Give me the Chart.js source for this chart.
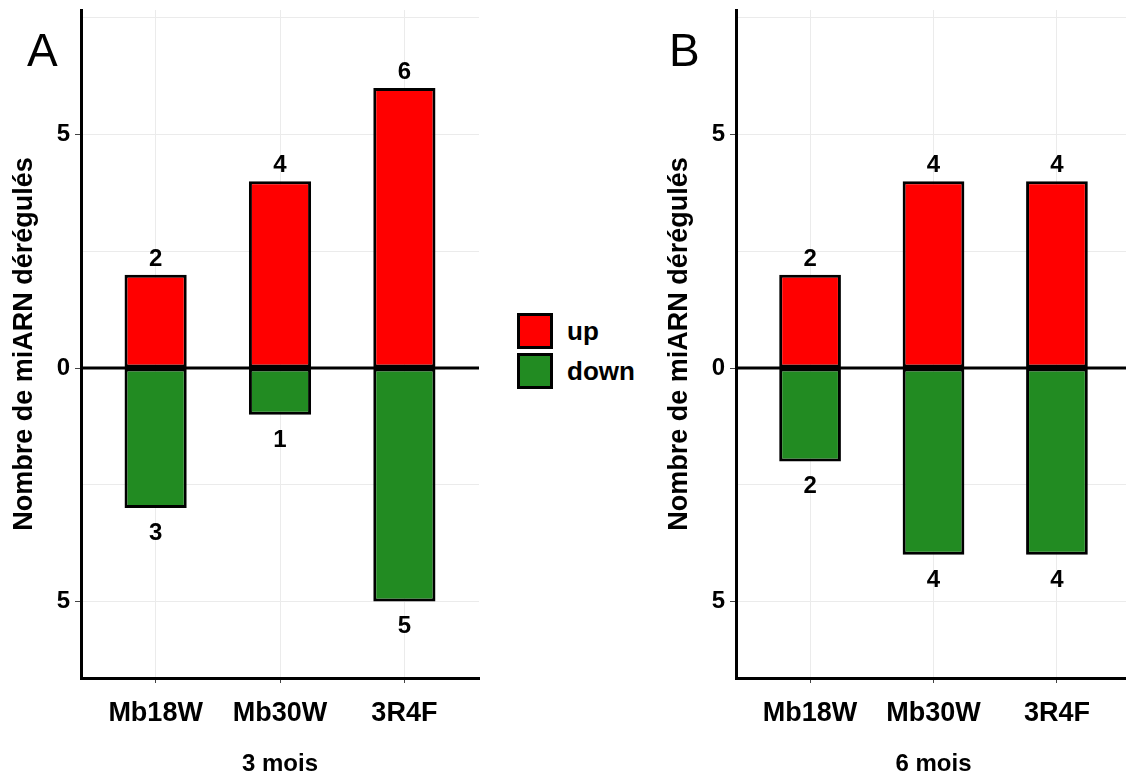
<!DOCTYPE html>
<html>
<head>
<meta charset="utf-8">
<script src="https://cdn.jsdelivr.net/npm/chart.js@4.4.1/dist/chart.umd.min.js"></script>
<style>
  body { margin: 0; width: 1126px; height: 776px; overflow: hidden; background: #fff; position: relative; font-family: "Liberation Sans", Arial, sans-serif; }
  canvas { position: absolute; top: 0; }
  #panelA { left: 0; }
  #panelB { left: 655px; }
  .panel__letter { position: absolute; top: 27px; font-size: 46px; line-height: 1; color: #000; }
  .legend { position: absolute; left: 517px; top: 313px; }
  .legend__item { display: flex; align-items: center; height: 36px; margin-bottom: 4px; }
  .legend__key { width: 36px; height: 36px; box-sizing: border-box; border: 3px solid #000; }
  .legend__label { margin-left: 14px; font-size: 26px; font-weight: bold; color: #000; }
</style>
</head>
<body>
<canvas id="panelA" width="490" height="776"></canvas>
<canvas id="panelB" width="490" height="776"></canvas>
<div class="panel__letter" style="left:27px">A</div>
<div class="panel__letter" style="left:669px">B</div>
<div class="legend" id="legend"></div>
<script>
const categories = ['Mb18W', 'Mb30W', '3R4F'];
const upA = [2, 4, 6];
const downA = [-3, -1, -5];
const upB = [2, 4, 4];
const downB = [-2, -4, -4];
const seriesNames = ['up', 'down'];
const seriesColors = ['#FF0000', '#228B22'];
const yGridValues = [-5, -2.5, 0, 2.5, 5, 7.5];
const yLabelValues = [-5, 0, 5];
const yTitle = 'Nombre de miARN dérégulés';
const xTitles = ['3 mois', '6 mois'];

const fontFamily = '"Liberation Sans", Arial, sans-serif';

// ligne du zero par dessus les barres
const zeroLine = {
  id: 'zeroLine',
  afterDatasetsDraw(chart) {
    const ctx = chart.ctx;
    const area = chart.chartArea;
    const y = chart.scales.y.getPixelForValue(0);
    ctx.save();
    ctx.strokeStyle = '#000';
    ctx.lineWidth = 3;
    ctx.beginPath();
    ctx.moveTo(area.left, y);
    ctx.lineTo(area.right, y);
    ctx.stroke();
    ctx.restore();
  }
};

// etiquettes des valeurs au bout des barres
const barLabels = {
  id: 'barLabels',
  afterDatasetsDraw(chart) {
    const ctx = chart.ctx;
    ctx.save();
    ctx.font = 'bold 24px ' + fontFamily;
    ctx.fillStyle = '#000';
    ctx.textAlign = 'center';
    ctx.textBaseline = 'alphabetic';
    chart.data.datasets.forEach((dataset, d) => {
      const meta = chart.getDatasetMeta(d);
      meta.data.forEach((bar, i) => {
        const value = dataset.data[i].y;
        if (value > 0) ctx.fillText(String(value), bar.x, bar.y - 9);
        else ctx.fillText(String(Math.abs(value)), bar.x, bar.y + 32);
      });
    });
    ctx.restore();
  }
};

function panel(canvasId, up, down, xTitle, rightPad) {
  const canvas = document.getElementById(canvasId);
  const values = [up, down];

  new Chart(canvas, {
    type: 'bar',
    data: {
      datasets: seriesNames.map((name, s) => ({
        label: name,
        data: categories.map((c, i) => ({ x: i + 1, y: values[s][i] })),
        backgroundColor: seriesColors[s],
        borderColor: '#000',
        borderWidth: 3,
        borderSkipped: false,
        barPercentage: 0.5,
        categoryPercentage: 1
      }))
    },
    options: {
      responsive: false,
      animation: false,
      layout: { autoPadding: false, padding: { top: 10, right: rightPad, bottom: 0, left: 0 } },
      plugins: { legend: { display: false }, tooltip: { enabled: false } },
      scales: {
        x: {
          type: 'linear',
          stacked: true,
          offset: false,
          min: 0.4,
          max: 3.6,
          afterBuildTicks: scale => { scale.ticks = categories.map((c, i) => ({ value: i + 1 })); },
          afterFit: scale => { scale.height = 98; scale.paddingLeft = 0; scale.paddingRight = 0; },
          ticks: {
            autoSkip: false,
            maxRotation: 0,
            padding: 14,
            color: '#000',
            font: { family: fontFamily, size: 27, weight: 'bold' },
            callback: value => categories[value - 1]
          },
          grid: { offset: false, color: '#EBEBEB', lineWidth: 1, tickColor: '#444', tickLength: 5 },
          border: { display: true, color: '#000', width: 3 },
          title: {
            display: true,
            text: xTitle,
            color: '#000',
            padding: { top: 0, bottom: -3 },
            font: { family: fontFamily, size: 24, weight: 'bold' }
          }
        },
        y: {
          stacked: true,
          min: -6.64,
          max: 7.67,
          afterBuildTicks: scale => { scale.ticks = yGridValues.map(v => ({ value: v })); },
          afterFit: scale => { scale.width = 81; scale.paddingTop = 0; scale.paddingBottom = 0; },
          ticks: {
            autoSkip: false,
            padding: 5,
            color: '#000',
            font: { family: fontFamily, size: 24, weight: 'bold' },
            callback: value => yLabelValues.includes(value) ? String(Math.abs(value)) : ''
          },
          grid: {
            color: '#EBEBEB',
            lineWidth: 1,
            tickLength: 6,
            tickColor: ctx => yLabelValues.includes(ctx.tick.value) ? '#444' : 'rgba(0,0,0,0)'
          },
          border: { display: true, color: '#000', width: 3 },
          title: {
            display: true,
            text: yTitle,
            color: '#000',
            padding: { top: 8, bottom: 0 },
            font: { family: fontFamily, size: 27, weight: 'bold' }
          }
        }
      }
    },
    plugins: [zeroLine, barLabels]
  });
}

panel('panelA', upA, downA, xTitles[0], 11);
panel('panelB', upB, downB, xTitles[1], 14);

// legende commune au milieu
const legend = document.getElementById('legend');
seriesNames.forEach((name, s) => {
  const item = document.createElement('div');
  item.className = 'legend__item';
  const key = document.createElement('div');
  key.className = 'legend__key';
  key.style.backgroundColor = seriesColors[s];
  const label = document.createElement('span');
  label.className = 'legend__label';
  label.textContent = name;
  item.append(key, label);
  legend.appendChild(item);
});
</script>
</body>
</html>
